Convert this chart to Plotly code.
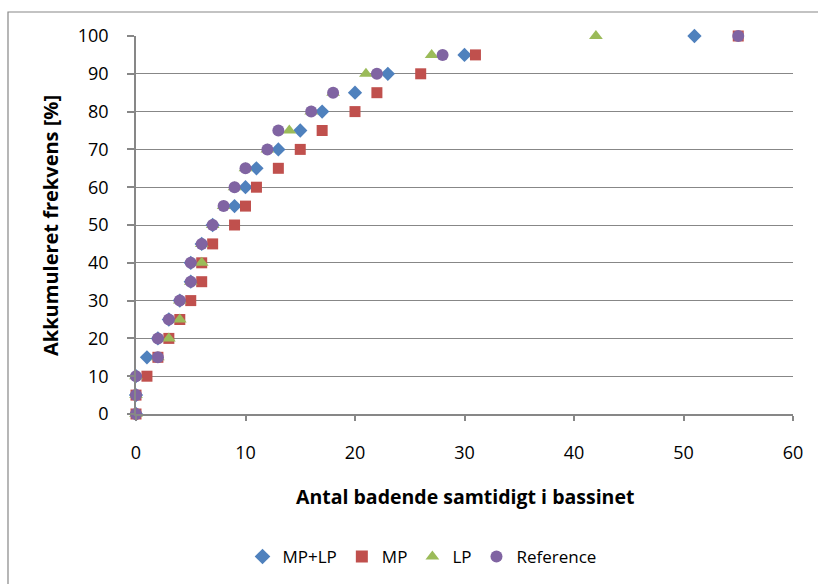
import plotly.graph_objects as go

# Cumulative frequency levels (%)
freq = [0, 5, 10, 15, 20, 25, 30, 35, 40, 45, 50, 55, 60, 65, 70, 75, 80, 85, 90, 95, 100]

# Number of simultaneous bathers for each frequency level
mp_lp = [0, 0, 0, 1, 2, 3, 4, 5, 5, 6, 7, 9, 10, 11, 13, 15, 17, 20, 23, 30, 51]
mp = [0, 0, 1, 2, 3, 4, 5, 6, 6, 7, 9, 10, 11, 13, 15, 17, 20, 22, 26, 31, 55]
lp = [0, 0, 0, 2, 3, 4, 4, 5, 6, 6, 7, 8, 9, 10, 12, 14, 16, 18, 21, 27, 42]
reference = [0, 0, 0, 2, 2, 3, 4, 5, 5, 6, 7, 8, 9, 10, 12, 13, 16, 18, 22, 28, 55]

x_ticks = [0, 10, 20, 30, 40, 50, 60]
y_ticks = [0, 10, 20, 30, 40, 50, 60, 70, 80, 90, 100]

series = [
    ("MP+LP", mp_lp, "diamond", "#4F81BD", 11),
    ("MP", mp, "square", "#C0504D", 11),
    ("LP", lp, "triangle-up", "#9BBB59", 12),
    ("Reference", reference, "circle", "#8064A2", 12),
]

fig = go.Figure()
for name, xs, sym, col, size in series:
    fig.add_trace(go.Scatter(
        x=xs, y=freq, mode="markers", name=name, cliponaxis=False,
        marker=dict(symbol=sym, color=col, size=size, line=dict(width=0)),
    ))

W, H = 818, 584
L, R, T, B = 136, 25, 36, 170
pw, ph = W - L - R, H - T - B

axis_grey = "#878787"
font_family = "'Open Sans', Lato, sans-serif"

fig.update_layout(
    width=W, height=H,
    margin=dict(l=L, r=R, t=T, b=B, autoexpand=False),
    paper_bgcolor="white", plot_bgcolor="white",
    font=dict(family=font_family, size=18, color="#000000"),
    showlegend=True,
    legend=dict(
        orientation="h", x=(422 - L) / pw, xanchor="center",
        y=(H - B - 557) / ph, yanchor="middle",
        font=dict(size=17), itemsizing="constant", traceorder="normal",
        itemwidth=30, tracegroupgap=0,
    ),
    xaxis=dict(
        range=[0, 60], tickvals=x_ticks, showgrid=False, zeroline=False,
        showline=True, linecolor=axis_grey, linewidth=1.5,
        ticks="outside", ticklen=5, tickcolor=axis_grey, tickwidth=1.5,
        tickfont=dict(size=18), ticklabelstandoff=17, fixedrange=True,
        automargin=False,
    ),
    yaxis=dict(
        range=[0, 100], tickvals=y_ticks, showgrid=True, gridcolor=axis_grey,
        gridwidth=1.2, zeroline=False, showline=True, linecolor=axis_grey,
        linewidth=1.5, ticks="outside", ticklen=7, tickcolor=axis_grey,
        tickwidth=1.5, tickfont=dict(size=18), ticklabelstandoff=15,
        fixedrange=True, automargin=False,
    ),
    shapes=[dict(
        type="rect", xref="paper", yref="paper",
        x0=(8 - L) / pw, x1=(840 - L) / pw,
        y0=(H - B - 620) / ph, y1=(H - B - 12) / ph,
        line=dict(color=axis_grey, width=1.2), fillcolor="rgba(0,0,0,0)", layer="below",
    )],
    annotations=[
        dict(
            text="<b>Antal badende samtidigt i bassinet</b>", showarrow=False,
            xref="paper", yref="paper", x=0.5, y=(H - B - 496) / ph,
            xanchor="center", yanchor="middle", font=dict(size=19.5),
        ),
        dict(
            text="<b>Akkumuleret frekvens [%]</b>", showarrow=False, textangle=-90,
            xref="paper", yref="paper", x=(50 - L) / pw, y=(H - B - 226) / ph,
            xanchor="center", yanchor="middle", font=dict(size=20),
        ),
    ],
)

fig.write_html("out.html")
